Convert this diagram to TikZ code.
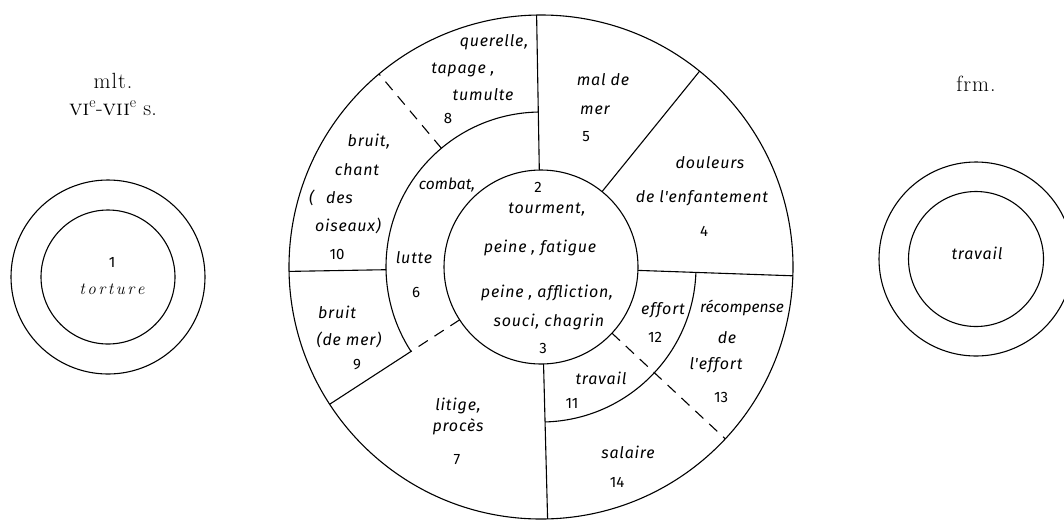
\documentclass[tikz,border=0pt]{standalone}
\usepackage{fontspec}
\newfontfamily\handfont[LetterSpace=5]{Fira Sans}
\newfontfamily\numfont{Fira Sans}
\begin{document}
\begin{tikzpicture}[x=1pt,y=-1pt,
  lbl/.style={font=\handfont\itshape\fontsize{16}{18}\selectfont, inner sep=0pt},
  lbln/.style={font=\numfont\itshape\fontsize{15.5}{18}\selectfont, inner sep=0pt},
  num/.style={font=\numfont\fontsize{15}{17}\selectfont, inner sep=0pt},
  ttl/.style={font=\fontsize{22}{25}\selectfont, inner sep=0pt},
  ln/.style={line width=1.1pt},
  dsh/.style={line width=1.1pt, dash pattern=on 11pt off 8pt}]
\useasboundingbox (0,0) rectangle (1064,520);
\fill[white] (0,0) rectangle (1064,520);

% ---- left: mlt.
\node[ttl] (mlt) at (113,81) {m\kern1pt l\kern1pt t\kern1pt .};
\node[ttl] (cent) at (113,108) {\textsc{vi}\textsuperscript{e}-\textsc{vii}\textsuperscript{e} s.};
\draw[ln] (108,277) circle[radius=97];
\draw[ln] (108,277) circle[radius=67];
\node[num] (n1) at (112,262) {1};
\node[font=\itshape\fontsize{17}{19}\selectfont, inner sep=0pt] (tort) at (112,289)
  {t\kern2.5pt o\kern2.5pt r\kern2.5pt t\kern2.5pt u\kern2.5pt r\kern2.5pt e};

% ---- right: frm.
\node[ttl] (frm) at (976,84) {f\kern1pt r\kern1pt m\kern1pt .};
\draw[ln] (976,259) circle[radius=97];
\draw[ln] (976,259) circle[radius=67.5];
\node[lbl] (trav) at (977,253) {travail};

% ---- centre
\begin{scope}[shift={(541,267)}, yscale=-1]
  \draw[ln] (0,0) circle[radius=97];
  \draw[ln] (0,0) circle[radius=252];
  \draw[ln] (91:155) arc[start angle=91, end angle=213, radius=155];
  \draw[ln] (-88.5:155) arc[start angle=-88.5, end angle=-2, radius=155];
  \draw[ln] (91:97) -- (91:252);
  \draw[ln] (51:97) -- (51:252);
  \draw[ln] (-2:97) -- (-2:252);
  \draw[ln] (-88.5:97) -- (-88.5:252);
  \draw[dsh] (130:155) -- (130:252);
  \draw[ln] (181:155) -- (181:252);
  \draw[ln] (213:155) -- (213:252);
  \draw[dsh] (213:97) -- (213:155);
  \draw[dsh] (-43:97) -- (-43:252);
\end{scope}

% region 8
\node[lbl] (t8a) at (494,42) {querelle,};
\node[lbl] (t8b) at (463,70) {tapage ,};
\node[lbl] (t8c) at (483,95) {tumulte};
\node[num] (n8) at (448,118) {8};
% region 10
\node[lbl] (t10a) at (369,142) {bruit,};
\node[lbl] (t10b) at (357,170) {chant};
\node[lbl] (t10c) at (331,198) {(\hspace{12pt}des};
\node[lbl] (t10d) at (348,226) {oiseaux)};
\node[num] (n10) at (337,254) {10};
% region 6
\node[lbln] (t6a) at (447,185) {combat,};
\node[lbl] (t6b) at (414,258) {lutte};
\node[num] (n6) at (416,292) {6};
% region 9
\node[lbl] (t9a) at (337,312) {bruit};
\node[lbl] (t9b) at (349,340) {(de mer)};
\node[num] (n9) at (357,365) {9};
% region 7
\node[lbl] (t7a) at (458,406) {litige,};
\node[lbl] (t7b) at (458,427) {procès};
\node[num] (n7) at (457,460) {7};
% regions 2, 3
\node[num] (n2) at (538,187) {2};
\node[lbl] (t2a) at (547,210) {tourment,};
\node[lbl] (t2b) at (540,248) {peine , fatigue};
\node[lbl] (t3a) at (547,293) {peine , affliction,};
\node[lbl] (t3b) at (549,322) {souci, chagrin};
\node[num] (n3) at (543,348) {3};
% region 5
\node[lbl] (t5a) at (603,80) {mal de};
\node[lbl] (t5b) at (595,110) {mer};
\node[num] (n5) at (586,137) {5};
% region 4
\node[lbl] (t4a) at (710,163) {douleurs};
\node[lbl] (t4b) at (702,198) {de l'enfantement};
\node[num] (n4) at (704,231) {4};
% region 12
\node[lbl] (t12) at (663,310) {effort};
\node[num] (n12) at (655,337) {12};
% region 13
\node[lbln] (t13a) at (742,308) {récompense};
\node[lbl] (t13b) at (727,338) {de};
\node[lbl] (t13c) at (716,365) {l'effort};
\node[num] (n13) at (721,397) {13};
% region 11
\node[lbl] (t11) at (601,378) {travail};
\node[num] (n11) at (572,403) {11};
% region 14
\node[lbl] (t14) at (628,452) {salaire};
\node[num] (n14) at (617,482) {14};
\end{tikzpicture}
\end{document}
